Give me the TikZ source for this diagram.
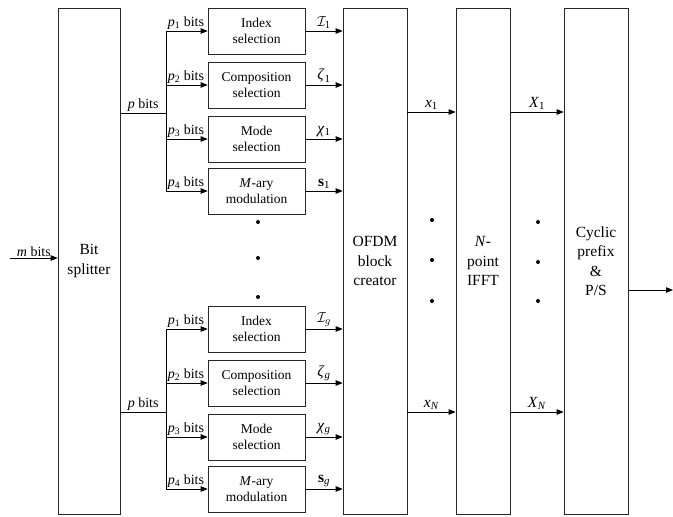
\documentclass[tikz,border=0pt]{standalone}
\usepackage{fontspec}
\setmainfont{Liberation Serif}
\usetikzlibrary{arrows.meta}
\begin{document}
\begin{tikzpicture}[
	x=1pt, y=-1pt,
	blk/.style={draw=black!85, line width=0.7pt, minimum width=97pt, minimum height=46pt, inner sep=0pt,
		align=center, font=\fontsize{13.5}{16}\selectfont},
	big/.style={draw=black!85, line width=0.7pt, minimum height=506pt, inner sep=0pt,
		align=center, font=\fontsize{15.5}{19.5}\selectfont},
	arr/.style={line width=0.7pt, -{Triangle[length=7pt,width=5.5pt]}},
	ln/.style={line width=0.7pt},
	lbl/.style={font=\fontsize{14}{16}\selectfont, inner sep=1.5pt},
	sym/.style={font=\fontsize{15.5}{18}\selectfont, inner sep=2pt},
	dot/.style={circle, fill=black, inner sep=0pt, minimum size=4pt}
	]
	\useasboundingbox (0,0) rectangle (673,517);
	% big blocks
	\node[big, minimum width=62pt] (bit) at (89,261) {Bit\\splitter};
	\node[big, minimum width=64pt] (ofdm) at (375,261) {OFDM\\block\\creator};
	\node[big, minimum width=54pt] (ifft) at (483,261) {\textit{N}-\\point\\IFFT};
	\node[big, minimum width=64pt] (cp) at (596,261) {Cyclic\\prefix\\\&\\P/S};
	% input and output
	\coordinate (min) at (10,258);
	\draw[arr] (min) -- (bit.west |- min) node[lbl, midway, above] {\textit{m} bits};
	\coordinate (out) at (673,290);
	\draw[arr] (cp.east |- out) -- (out);
	% group 1
	\begin{scope}
		\node[blk] (idx1) at (256.5,31) {Index\\selection};
		\node[blk] (cmp1) at (256.5,85) {Composition\\selection};
		\node[blk] (mod1) at (256.5,139) {Mode\\selection};
		\node[blk] (mary1) at (256.5,191) {\textit{M}-ary\\modulation};
		\coordinate (br1) at (166,113);
		\draw[ln] (bit.east |- br1) -- (br1) node[lbl, midway, above] {\textit{p} bits};
		\draw[arr] (br1) |- (idx1.west) node[lbl, pos=0.5, anchor=south west] {\textit{p}\textsubscript{1} bits};
		\draw[arr] (br1) |- (cmp1.west) node[lbl, pos=0.5, anchor=south west] {\textit{p}\textsubscript{2} bits};
		\draw[arr] (br1) |- (mod1.west) node[lbl, pos=0.5, anchor=south west] {\textit{p}\textsubscript{3} bits};
		\draw[arr] (br1) |- (mary1.west) node[lbl, pos=0.5, anchor=south west] {\textit{p}\textsubscript{4} bits};
		\draw[arr] (idx1.east) -- (idx1.east -| ofdm.west) node[sym, midway, above] {$\mathcal{I}_1$};
		\draw[arr] (cmp1.east) -- (cmp1.east -| ofdm.west) node[sym, midway, above] {\textit{ζ}\textsubscript{1}};
		\draw[arr] (mod1.east) -- (mod1.east -| ofdm.west) node[sym, midway, above] {\textit{χ}\textsubscript{1}};
		\draw[arr] (mary1.east) -- (mary1.east -| ofdm.west) node[sym, midway, above] {\textbf{s}\textsubscript{1}};
	\end{scope}
	% group g
	\begin{scope}[yshift=-298pt]
		\node[blk] (idxg) at (256.5,31) {Index\\selection};
		\node[blk] (cmpg) at (256.5,85) {Composition\\selection};
		\node[blk] (modg) at (256.5,139) {Mode\\selection};
		\node[blk] (maryg) at (256.5,191) {\textit{M}-ary\\modulation};
		\coordinate (brg) at (166,114);
		\draw[ln] (bit.east |- brg) -- (brg) node[lbl, midway, above] {\textit{p} bits};
		\draw[arr] (brg) |- (idxg.west) node[lbl, pos=0.5, anchor=south west] {\textit{p}\textsubscript{1} bits};
		\draw[arr] (brg) |- (cmpg.west) node[lbl, pos=0.5, anchor=south west] {\textit{p}\textsubscript{2} bits};
		\draw[arr] (brg) |- (modg.west) node[lbl, pos=0.5, anchor=south west] {\textit{p}\textsubscript{3} bits};
		\draw[arr] (brg) |- (maryg.west) node[lbl, pos=0.5, anchor=south west] {\textit{p}\textsubscript{4} bits};
		\draw[arr] (idxg.east) -- (idxg.east -| ofdm.west) node[sym, midway, above] {$\mathcal{I}_g$};
		\draw[arr] (cmpg.east) -- (cmpg.east -| ofdm.west) node[sym, midway, above] {\textit{ζ}\textsubscript{\textit{g}}};
		\draw[arr] (modg.east) -- (modg.east -| ofdm.west) node[sym, midway, above] {\textit{χ}\textsubscript{\textit{g}}};
		\draw[arr] (maryg.east) -- (maryg.east -| ofdm.west) node[sym, midway, above] {\textbf{s}\textsubscript{\textit{g}}};
	\end{scope}
	% dots
	\node[dot] (d1) at (258,222) {};
	\node[dot] (d2) at (258,258) {};
	\node[dot] (d3) at (258,297) {};
	\node[dot] (d4) at (432,220) {};
	\node[dot] (d5) at (432,260) {};
	\node[dot] (d6) at (432,301) {};
	\node[dot] (d7) at (538,222) {};
	\node[dot] (d8) at (538,262) {};
	\node[dot] (d9) at (538,301) {};
	% parallel streams
	\coordinate (top) at (0,112);
	\coordinate (bot) at (0,412);
	\draw[arr] (ofdm.east |- top) -- (ifft.west |- top) node[sym, midway, above] {\textit{x}\textsubscript{1}};
	\draw[arr] (ofdm.east |- bot) -- (ifft.west |- bot) node[sym, midway, above] {\textit{x}\textsubscript{\textit{N}}};
	\draw[arr] (ifft.east |- top) -- (cp.west |- top) node[sym, midway, above] {\textit{X}\textsubscript{1}};
	\draw[arr] (ifft.east |- bot) -- (cp.west |- bot) node[sym, midway, above] {\textit{X}\textsubscript{\textit{N}}};
\end{tikzpicture}
\end{document}
